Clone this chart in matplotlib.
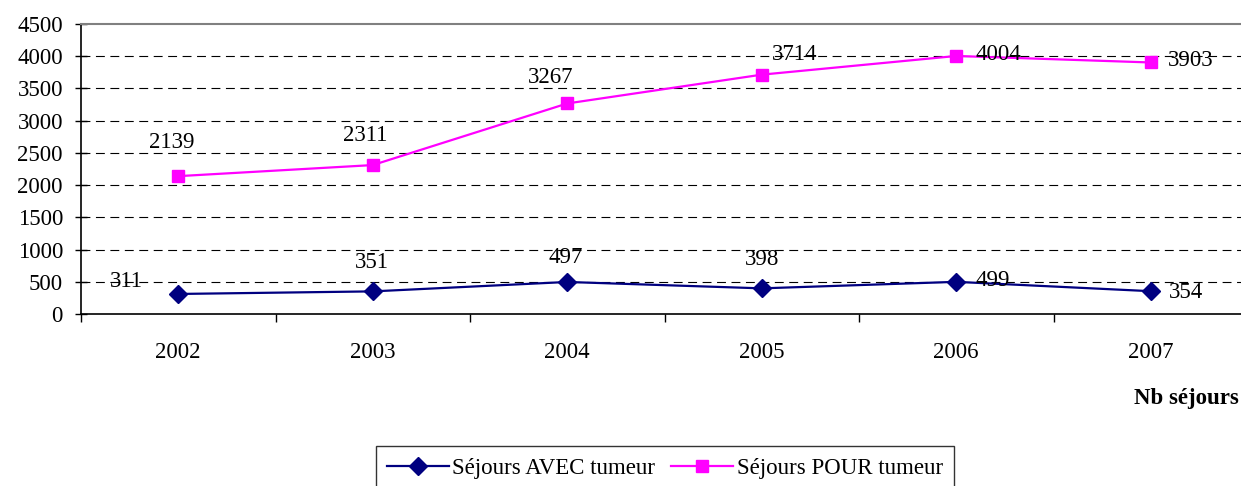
import matplotlib
matplotlib.use('Agg')
import matplotlib.pyplot as plt
from matplotlib.lines import Line2D

# --- Données ---
annees = ['2002', '2003', '2004', '2005', '2006', '2007']
sejours_avec = [311, 351, 497, 398, 499, 354]
sejours_pour = [2139, 2311, 3267, 3714, 4004, 3903]

# décalages des étiquettes (pixels) comme dans l'original
decal_avec = [(-52, 12), (-1, 29), (-2, 24), (0, 29), (36, 1), (35, -1)]
decal_pour = [(-7, 34), (-8, 30), (-17, 26), (33, 20), (42, 1), (40, 2)]

plt.rcParams['font.family'] = ['Liberation Serif', 'DejaVu Serif']
FS = 16.5

W, H = 1241, 486
fig = plt.figure(figsize=(W / 100, H / 100), dpi=100)
ax = fig.add_axes([81 / W, (H - 314) / H, 1167 / W, 290 / H])

x = list(range(len(annees)))
ax.plot(x, sejours_avec, color='#000080', lw=1.6, marker='D', ms=9,
        mfc='#000080', mec='#000080', zorder=4, clip_on=False)
ax.plot(x, sejours_pour, color='#FF00FF', lw=1.6, marker='s', ms=8.5,
        mfc='#FF00FF', mec='#FF00FF', zorder=4, clip_on=False)

for xi, v, (dx, dy) in zip(x, sejours_avec, decal_avec):
    ax.annotate(str(v), xy=(xi, v), xytext=(dx, dy), textcoords='offset pixels',
                ha='center', va='center', fontsize=FS, color='black', zorder=5)
for xi, v, (dx, dy) in zip(x, sejours_pour, decal_pour):
    ax.annotate(str(v), xy=(xi, v), xytext=(dx, dy), textcoords='offset pixels',
                ha='center', va='center', fontsize=FS, color='black', zorder=5)

ax.set_xlim(-0.5, len(annees) - 0.5)
ax.set_ylim(0, 4500)
ax.set_yticks(range(0, 4501, 500))
ax.tick_params(axis='y', direction='inout', length=8, width=1, labelsize=FS, pad=9)

# ticks majeurs entre les catégories, libellés au centre
ax.set_xticks([i - 0.5 for i in range(len(annees) + 1)])
ax.set_xticklabels([])
ax.set_xticks(x, minor=True)
ax.set_xticklabels(annees, minor=True)
ax.tick_params(axis='x', which='major', direction='out', length=6, width=1)
ax.tick_params(axis='x', which='minor', length=0, labelsize=FS, pad=20)

for y in range(500, 4001, 500):
    ax.axhline(y, color='black', lw=0.8, ls=(0, (8, 5)), zorder=1)

ax.spines['right'].set_visible(False)
ax.spines['top'].set_color('#808080')
ax.spines['top'].set_linewidth(1.5)
ax.spines['left'].set_linewidth(1.2)
ax.spines['bottom'].set_linewidth(1.2)

fig.text(1239 / W, (H - 398) / H, 'Nb séjours', ha='right', va='center',
         fontsize=FS, fontweight='bold')

handles = [
    Line2D([], [], color='#000080', lw=1.6, marker='D', ms=9, mfc='#000080', mec='#000080'),
    Line2D([], [], color='#FF00FF', lw=1.6, marker='s', ms=8.5, mfc='#FF00FF', mec='#FF00FF'),
]
leg = fig.legend(handles, ['Séjours AVEC tumeur', 'Séjours POUR tumeur'],
                 loc='center', bbox_to_anchor=(665 / W, (H - 468) / H), ncol=2,
                 fontsize=FS, frameon=True, fancybox=False, handlelength=2.7,
                 handletextpad=0.15, columnspacing=0.7, borderpad=0.5,
                 borderaxespad=0)
leg.get_frame().set_edgecolor('black')
leg.get_frame().set_linewidth(1)

fig.savefig('out.png', dpi=100)
